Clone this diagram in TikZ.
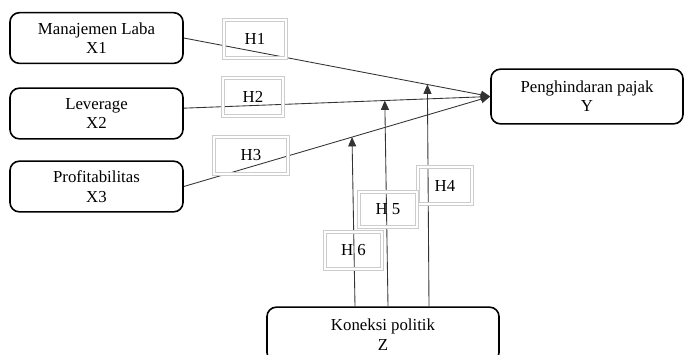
\documentclass[tikz,border=0pt]{standalone}
\usepackage{fontspec}
\setmainfont{Liberation Serif}
\usetikzlibrary{arrows.meta,calc}

\begin{document}
\begin{tikzpicture}[x=0.75pt, y=-0.75pt,
  block/.style={draw, line width=1.2pt, rounded corners=7pt,
    minimum width=129.75pt, minimum height=38pt, align=center,
    font=\fontsize{12.6}{14.5}\selectfont},
  hyp/.style={draw=gray!40, double, double distance=1.6pt, line width=0.75pt,
    inner sep=0pt, font=\fontsize{12.6}{14}\selectfont},
  arrow/.style={-{Triangle[length=7pt,width=6pt]}, draw=black!80, line width=0.65pt}
]
  \useasboundingbox (0,0) rectangle (685,354);

  % Blocks
  \node[block] (x1) at (96.5,38) {Manajemen Laba\\X1};
  \node[block] (x2) at (96.5,113.5) {Leverage\\X2};
  \node[block] (x3) at (96.5,186.5) {Profitabilitas\\X3};
  \node[block, minimum width=144pt, minimum height=41pt] (y) at (587,96.5) {Penghindaran pajak\\Y};
  \node[block, minimum width=174pt, minimum height=41pt] (z) at (383,334.5) {Koneksi politik\\Z};

  % Arrows
  \draw[arrow] (x1.east) -- (y.west) coordinate[pos=0.795] (h4end);
  \draw[arrow] ([yshift=4pt]x2.east) -- (y.west) coordinate[pos=0.656] (h5end);
  \draw[arrow] (x3.east) -- (y.west) coordinate[pos=0.549] (h6end);
  \draw[arrow] ($(z.north)+(46,0)$) -- (h4end);
  \draw[arrow] ($(z.north)+(5,0)$) -- (h5end);
  \draw[arrow] ($(z.north)+(-28,0)$) -- (h6end);

  % Hypotheses
  \node[hyp, minimum width=46.5pt, minimum height=28.5pt] (h1) at (255,39) {H1};
  \node[hyp, minimum width=45pt, minimum height=28.5pt] (h2) at (253,97) {H2};
  \node[hyp, minimum width=55.5pt, minimum height=27.75pt] (h3) at (251,155.5) {H3};
  \node[hyp, minimum width=40.5pt, minimum height=27.75pt] (h4) at (445,185.5) {H4};
  \node[hyp, minimum width=43.5pt, minimum height=26.25pt] (h5) at (388,209.5) {H 5};
  \node[hyp, minimum width=42.75pt, minimum height=27.75pt] (h6) at (353.5,250.5) {H 6};
\end{tikzpicture}
\end{document}
